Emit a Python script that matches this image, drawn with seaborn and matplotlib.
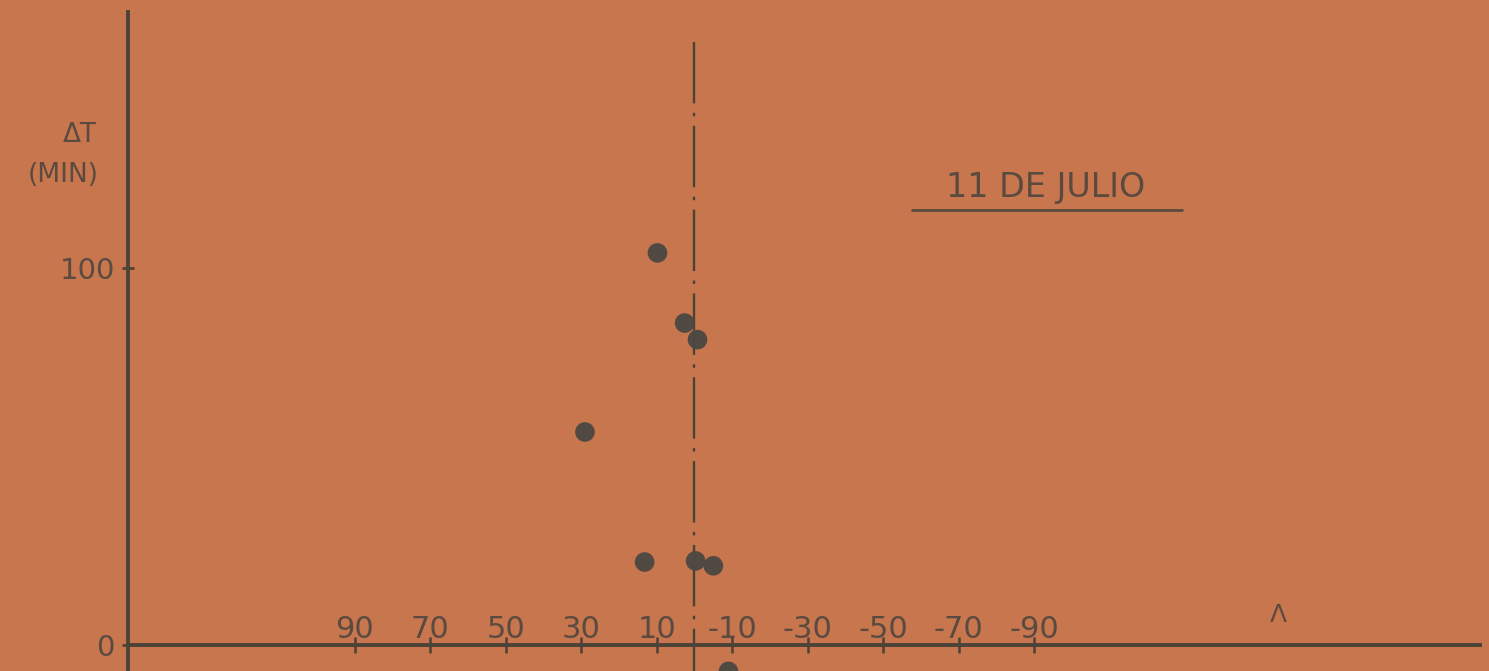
import matplotlib
matplotlib.use("Agg")
import matplotlib.pyplot as plt
import seaborn as sns
import pandas as pd

# data (lambda in degrees, delta T in minutes)
lam = [9.8, 2.6, -0.8, 29.0, 13.2, -0.3, -5.0, -9.0]
dt = [104.0, 85.4, 81.0, 56.5, 22.0, 22.3, 21.0, -7.0]

xticks = [90, 70, 50, 30, 10, -10, -30, -50, -70, -90]
xticklabels = ["90", "70", "50", "30", "10", "-10", "-30", "-50", "-70", "-90"]
yticks = [0, 100]
yticklabels = ["0", "100"]

title = "11 DE JULIO"

paper = "#c8764e"
ink = "#4b4238"
txt = "#5a4a3f"

df = pd.DataFrame({"lam": lam, "dt": dt})

sns.set_style("ticks")
plt.rcParams["font.family"] = ["DejaVu Sans"]

fig = plt.figure(figsize=(14.89, 6.71), dpi=100)
fig.patch.set_facecolor(paper)
ax = fig.add_axes([128 / 1489, 0, (1480 - 128) / 1489, (671 - 12) / 671])
ax.set_facecolor(paper)

# dash-dot line at lambda = 0
ax.plot([0, 0], [160, -7], color=ink, lw=1.7, ls=(0, (26, 4, 1.5, 4)), clip_on=True)

sns.scatterplot(data=df, x="lam", y="dt", ax=ax, s=200, color="#4b4843",
                edgecolor="none", alpha=0.95, zorder=3, clip_on=True)

ax.set_xlim(150, -208)
ax.set_ylim(-6.9, 167.9)

ax.spines["top"].set_visible(False)
ax.spines["right"].set_visible(False)
ax.spines["bottom"].set_position(("data", 0))
for s in ["left", "bottom"]:
    ax.spines[s].set_color(ink)
    ax.spines[s].set_linewidth(2.8)

ax.set_xticks(xticks)
ax.set_xticklabels(xticklabels)
ax.set_yticks(yticks)
ax.set_yticklabels(yticklabels)
ax.tick_params(axis="x", direction="inout", length=12, width=1.8, color=ink,
               labelsize=22, labelcolor=txt, pad=-7)
for lab in ax.get_xticklabels():
    lab.set_va("bottom")
ax.tick_params(axis="y", direction="inout", length=9, width=2, color=ink,
               labelsize=21, labelcolor=txt, pad=5)
ax.set_xlabel("")
ax.set_ylabel("")

fig.text(97 / 1489, 1 - 135 / 671, "\u0394T", ha="right", va="center",
         fontsize=19, color=txt)
fig.text(99 / 1489, 1 - 175 / 671, "(MIN)", ha="right", va="center",
         fontsize=19, color=txt)
fig.text(1278 / 1489, 1 - 615 / 671, "\u039b", ha="center", va="center",
         fontsize=18, color=txt)

fig.text(1046 / 1489, 1 - 188 / 671, title, ha="center", va="center",
         fontsize=24, color=txt)
fig.add_artist(plt.Line2D([912 / 1489, 1182 / 1489], [1 - 210 / 671, 1 - 210 / 671],
                          color=txt, lw=2))

plt.savefig("out.png", dpi=100, facecolor=paper)
